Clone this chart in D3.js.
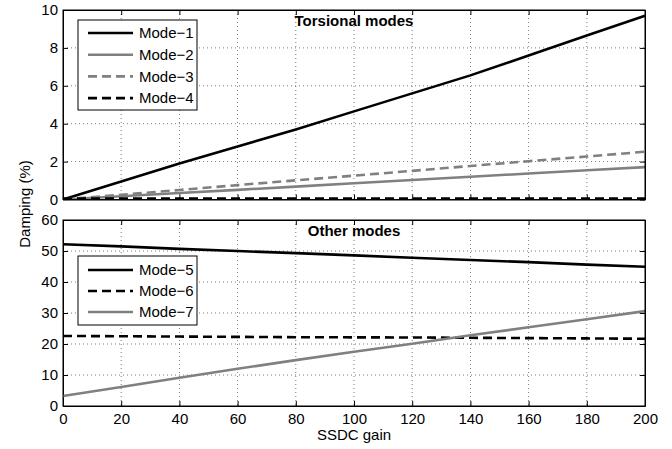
<!DOCTYPE html>
<meta charset="utf-8">
<style>
body { margin: 0; background: #fff; }
text { font-family: "Liberation Sans", Arial, sans-serif; font-size: 15px; fill: #000; }
.grid line { stroke: #000; stroke-width: 0.7; stroke-dasharray: 1,3; opacity: 0.75; }
.axis path, .axis line { stroke: #000; stroke-width: 1; fill: none; }
.line { fill: none; stroke-width: 2.6px; }
.title { font-weight: bold; text-anchor: middle; }
</style>
<svg width="672" height="449"></svg>
<script src="https://d3js.org/d3.v7.min.js"></script>
<script>

var gain = [0, 20, 40, 60, 80, 100, 120, 140, 160, 180, 200];

// Torsional modes
var mode1 = [0, 0.95, 1.9, 2.8, 3.7, 4.65, 5.6, 6.55, 7.6, 8.65, 9.7];
var mode2 = [0, 0.17, 0.34, 0.51, 0.68, 0.86, 1.03, 1.2, 1.37, 1.54, 1.71];
var mode3 = [0, 0.25, 0.5, 0.76, 1.01, 1.26, 1.51, 1.77, 2.02, 2.27, 2.52];
var mode4 = [0.05, 0.05, 0.05, 0.05, 0.05, 0.05, 0.05, 0.05, 0.05, 0.05, 0.05];

// Other modes
var mode5 = [52.2, 51.5, 50.7, 50.0, 49.3, 48.6, 47.8, 47.1, 46.4, 45.6, 44.9];
var mode6 = [22.6, 22.5, 22.4, 22.3, 22.2, 22.15, 22.1, 22.0, 21.9, 21.8, 21.7];
var mode7 = [3.2, 6.1, 9.1, 12.0, 14.8, 17.5, 20.1, 22.8, 25.4, 28.0, 30.6];

var xTicks = [0, 20, 40, 60, 80, 100, 120, 140, 160, 180, 200];
var yTicksTop = [0, 2, 4, 6, 8, 10];
var yTicksBottom = [0, 10, 20, 30, 40, 50, 60];

var svg = d3.select("svg");

var left = 63, right = 645;

var x = d3.scaleLinear().domain([0, 200]).range([left, right]);

var panels = [
  {
    title: "Torsional modes", top: 10, bottom: 199.5, domain: [0, 10], ticks: yTicksTop, xLabels: false,
    series: [
      {name: "Mode\u22121", values: mode1, color: "#000", dash: null},
      {name: "Mode\u22122", values: mode2, color: "#808080", dash: null},
      {name: "Mode\u22123", values: mode3, color: "#808080", dash: "9,5"},
      {name: "Mode\u22124", values: mode4, color: "#000", dash: "9,5"}
    ],
    legend: {x: 78, y: 20, w: 119, h: 90, first: 13, step: 21.7}
  },
  {
    title: "Other modes", top: 220, bottom: 406, domain: [0, 60], ticks: yTicksBottom, xLabels: true,
    series: [
      {name: "Mode\u22125", values: mode5, color: "#000", dash: null},
      {name: "Mode\u22126", values: mode6, color: "#000", dash: "9,5"},
      {name: "Mode\u22127", values: mode7, color: "#808080", dash: null}
    ],
    legend: {x: 78, y: 256, w: 119, h: 69, first: 14, step: 21}
  }
];

panels.forEach(function(p) {
  var y = d3.scaleLinear().domain(p.domain).range([p.bottom, p.top]);
  var g = svg.append("g");

  // grid
  var grid = g.append("g").attr("class", "grid");
  grid.selectAll(".gx").data(xTicks.slice(1, -1)).enter().append("line")
      .attr("x1", function(d) { return x(d); }).attr("x2", function(d) { return x(d); })
      .attr("y1", p.top).attr("y2", p.bottom);
  grid.selectAll(".gy").data(p.ticks.slice(1, -1)).enter().append("line")
      .attr("y1", function(d) { return y(d); }).attr("y2", function(d) { return y(d); })
      .attr("x1", left).attr("x2", right);

  // axes with inward ticks
  var ax = g.append("g").attr("class", "axis")
      .attr("transform", "translate(0," + p.bottom + ")")
      .call(d3.axisBottom(x).tickValues(xTicks).tickSizeInner(-5).tickSizeOuter(0).tickPadding(7));
  if (!p.xLabels) ax.selectAll("text").remove();
  var axTop = g.append("g").attr("class", "axis")
      .attr("transform", "translate(0," + p.top + ")")
      .call(d3.axisTop(x).tickValues(xTicks).tickSizeInner(-5).tickSizeOuter(0));
  axTop.selectAll("text").remove();
  g.append("g").attr("class", "axis")
      .attr("transform", "translate(" + left + ",0)")
      .call(d3.axisLeft(y).tickValues(p.ticks).tickSizeInner(-5).tickSizeOuter(0).tickPadding(5));
  var axR = g.append("g").attr("class", "axis")
      .attr("transform", "translate(" + right + ",0)")
      .call(d3.axisRight(y).tickValues(p.ticks).tickSizeInner(-5).tickSizeOuter(0));
  axR.selectAll("text").remove();
  g.selectAll(".axis").attr("font-size", null).attr("font-family", null);

  // lines
  var line = d3.line()
      .x(function(d, i) { return x(gain[i]); })
      .y(function(d) { return y(d); });
  g.selectAll(".line").data(p.series).enter().append("path")
      .attr("class", "line")
      .attr("stroke", function(d) { return d.color; })
      .attr("stroke-dasharray", function(d) { return d.dash; })
      .attr("d", function(d) { return line(d.values); });

  // box
  g.append("rect").attr("x", left).attr("y", p.top)
      .attr("width", right - left).attr("height", p.bottom - p.top)
      .attr("fill", "none").attr("stroke", "#000").attr("stroke-width", 1);

  g.append("text").attr("class", "title")
      .attr("x", (left + right) / 2).attr("y", p.top + 16)
      .text(p.title);

  // legend
  var L = p.legend;
  var lg = g.append("g").attr("transform", "translate(" + L.x + "," + L.y + ")");
  lg.append("rect").attr("width", L.w).attr("height", L.h)
      .attr("fill", "#fff").attr("stroke", "#000").attr("stroke-width", 1);
  var item = lg.selectAll(".item").data(p.series).enter().append("g")
      .attr("transform", function(d, i) { return "translate(0," + (L.first + i * L.step) + ")"; });
  item.append("line").attr("x1", 10).attr("x2", 55)
      .attr("stroke", function(d) { return d.color; })
      .attr("stroke-width", 2.6)
      .attr("stroke-dasharray", function(d) { return d.dash; });
  item.append("text").attr("x", 61).attr("dy", "0.35em").text(function(d) { return d.name; });
});

svg.append("text").attr("text-anchor", "middle")
    .attr("transform", "translate(30,204) rotate(-90)")
    .text("Damping (%)");
svg.append("text").attr("text-anchor", "middle")
    .attr("x", (left + right) / 2).attr("y", 440)
    .text("SSDC gain");

</script>
